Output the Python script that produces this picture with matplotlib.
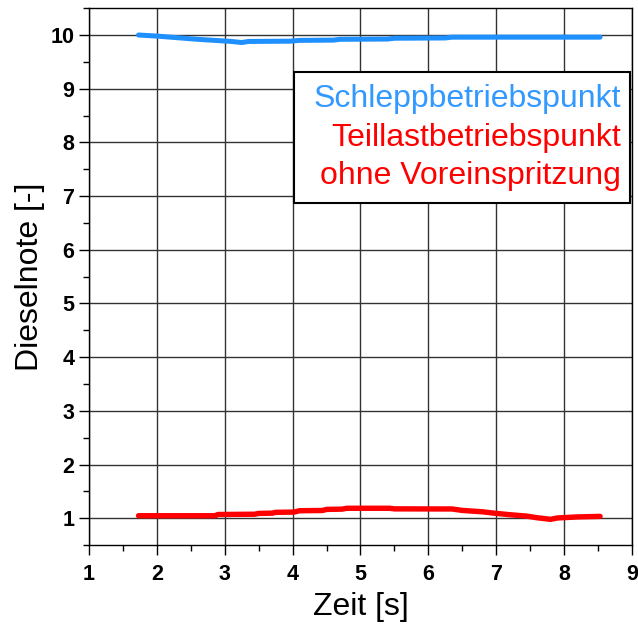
import matplotlib
matplotlib.use("Agg")
import matplotlib.pyplot as plt
from matplotlib.ticker import MultipleLocator
from matplotlib.patches import Rectangle

plt.rcParams['font.family'] = ['Liberation Sans', 'DejaVu Sans']

# Data
blue_x = [1.73, 2.0, 2.2, 2.4, 2.6, 2.85, 3.1, 3.25, 3.35, 3.96, 4.1, 4.6, 4.7, 5.4, 5.5, 6.25, 6.35, 8.53]
blue_y = [10.0, 9.98, 9.96, 9.94, 9.92, 9.90, 9.88, 9.86, 9.88, 9.885, 9.90, 9.905, 9.92, 9.925, 9.94, 9.945, 9.96, 9.96]

red_x = [1.73, 2.86, 2.9, 3.44, 3.5, 3.7, 3.75, 4.02, 4.1, 4.44, 4.5, 4.73, 4.8, 5.43, 5.5, 6.35,
         6.5, 6.8, 6.98, 7.2, 7.45, 7.6, 7.8, 7.9, 8.2, 8.53]
red_y = [1.047, 1.047, 1.07, 1.075, 1.09, 1.095, 1.11, 1.115, 1.14, 1.145, 1.165, 1.17, 1.186, 1.186, 1.175, 1.173,
         1.146, 1.12, 1.093, 1.066, 1.04, 1.01, 0.98, 1.005, 1.025, 1.035]

x_ticks = [1, 2, 3, 4, 5, 6, 7, 8, 9]
y_ticks = [1, 2, 3, 4, 5, 6, 7, 8, 9, 10]
legend_lines = ["Schleppbetriebspunkt", "Teillastbetriebspunkt", "ohne Voreinspritzung"]

fig = plt.figure(figsize=(6.38, 6.28), dpi=100)
ax = fig.add_axes([0.1395, 0.132, 0.851, 0.855])

ax.plot(blue_x, blue_y, color='#1e90ff', lw=3.6, solid_capstyle='round')
ax.plot(red_x, red_y, color='#ff0000', lw=3.9, solid_capstyle='round')

ax.set_xlim(1, 9)
ax.set_ylim(0.5, 10.5)
ax.set_xticks(x_ticks)
ax.set_yticks(y_ticks)
ax.xaxis.set_minor_locator(MultipleLocator(0.5))
ax.yaxis.set_minor_locator(MultipleLocator(0.5))
ax.grid(True, which='major', color='#333333', lw=1.0)
ax.set_axisbelow(True)
ax.tick_params(which='major', direction='out', length=7.5, width=1, labelsize=15.5, pad=3)
ax.tick_params(axis='x', which='major', pad=6)
ax.tick_params(which='minor', direction='out', length=4, width=1)
for lab in ax.get_xticklabels() + ax.get_yticklabels():
    lab.set_fontweight('bold')
for s in ax.spines.values():
    s.set_linewidth(1.0)
    s.set_color('black')

ax.set_xlabel('Zeit [s]', fontsize=23, labelpad=5)
ax.set_ylabel('Dieselnote [-]', fontsize=23, labelpad=4)

# legend box
box = Rectangle((294/638, 1 - 203/628), (630 - 294)/638, (203 - 72)/628,
                transform=fig.transFigure, facecolor='white', edgecolor='black', lw=1.5, zorder=5)
fig.patches.append(box)
colors = ['#3399ff', '#ff0000', '#ff0000']
ys = [99, 138, 176]
for t, c, yy in zip(legend_lines, colors, ys):
    fig.text(621/638, 1 - yy/628, t, color=c, fontsize=23, ha='right', va='center', zorder=6)

fig.savefig('out.png', dpi=100)
